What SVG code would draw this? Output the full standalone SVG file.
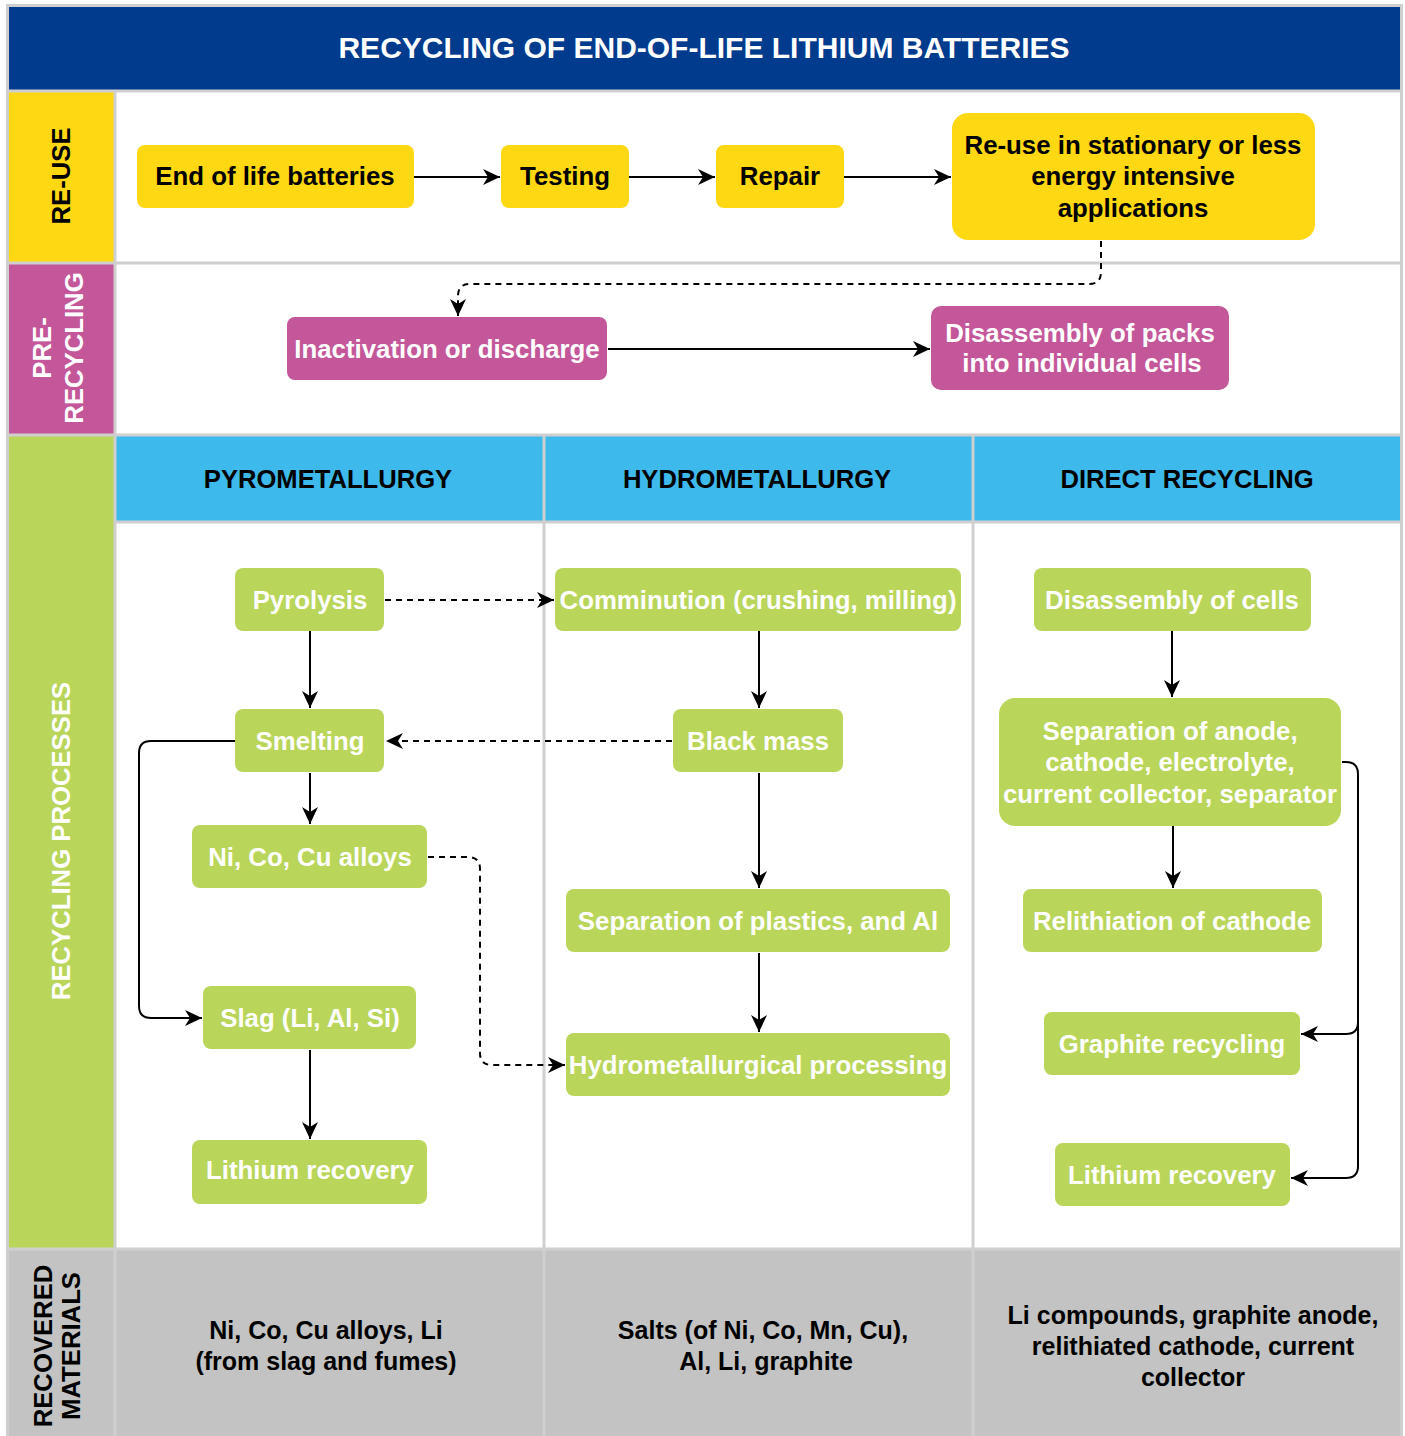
<svg xmlns="http://www.w3.org/2000/svg" width="1405" height="1436" viewBox="0 0 1405 1436">
  <style>
    text { font-family: "Liberation Sans", Arial, sans-serif; font-weight: bold; }
    .title { font-size: 30px; fill: #ffffff; text-anchor: middle; }
    .lbl { font-size: 25.7px; text-anchor: middle; }
    .hdr { font-size: 25.6px; fill: #000000; text-anchor: middle; }
    .yt { font-size: 25.8px; fill: #000000; text-anchor: middle; }
    .mt { font-size: 25.8px; fill: #ffffff; text-anchor: middle; }
    .gt { font-size: 25.8px; fill: #ffffff; text-anchor: middle; }
    .rt { font-size: 25px; fill: #000000; text-anchor: middle; }
    .ybox { fill: #FDD813; }
    .mbox { fill: #C4579A; }
    .gbox { fill: #B9D55A; }
    .grid { stroke: #CFCFCF; stroke-width: 3; fill: none; }
    .solid { stroke: #000000; stroke-width: 2; fill: none; marker-end: url(#arrow); }
    .dash { stroke: #000000; stroke-width: 2; fill: none; stroke-dasharray: 6 5; marker-end: url(#arrow); }
  </style>
  <defs>
    <marker id="arrow" markerUnits="userSpaceOnUse" markerWidth="20" markerHeight="20" refX="17" refY="8" orient="auto">
      <path d="M0,0 L17,8 L0,16 L5,8 Z" fill="#000000"/>
    </marker>
  </defs>

  <!-- background bands -->
  <rect x="0" y="0" width="1405" height="1436" fill="#ffffff"/>
  <rect x="7" y="5" width="1395" height="86" fill="#003B8E"/>
  <rect x="7" y="91" width="108" height="172" fill="#FDD813"/>
  <rect x="7" y="263" width="108" height="172" fill="#C4579A"/>
  <rect x="7" y="435" width="108" height="814" fill="#B9D55A"/>
  <rect x="7" y="1249" width="1395" height="187" fill="#C2C3C2"/>
  <rect x="115" y="435" width="1287" height="87" fill="#3DB9EB"/>

  <!-- grid lines -->
  <g id="grid">
    <rect class="grid" x="7.5" y="5.5" width="1394" height="1432"/>
    <line class="grid" x1="7" y1="91" x2="1402" y2="91"/>
    <line class="grid" x1="115" y1="91" x2="115" y2="1436"/>
    <line class="grid" x1="7" y1="263" x2="1402" y2="263"/>
    <line class="grid" x1="7" y1="435" x2="1402" y2="435"/>
    <line class="grid" x1="115" y1="522" x2="1402" y2="522"/>
    <line class="grid" x1="7" y1="1249" x2="1402" y2="1249"/>
    <line class="grid" x1="544" y1="435" x2="544" y2="1436"/>
    <line class="grid" x1="973" y1="435" x2="973" y2="1436"/>
  </g>

  <!-- title -->
  <text class="title" x="704" y="58">RECYCLING OF END-OF-LIFE LITHIUM BATTERIES</text>

  <!-- row labels -->
  <g id="label-reuse">
    <text class="lbl" transform="translate(61,176) rotate(-90)" y="9" fill="#000000">RE-USE</text>
  </g>
  <g id="label-prerecycling">
    <text class="lbl" transform="translate(58,348) rotate(-90)" fill="#ffffff"><tspan x="0" y="-7">PRE-</tspan><tspan x="0" y="25">RECYCLING</tspan></text>
  </g>
  <g id="label-processes">
    <text class="lbl" transform="translate(61,841) rotate(-90)" y="9" fill="#ffffff">RECYCLING PROCESSES</text>
  </g>
  <g id="label-recovered">
    <text class="lbl" transform="translate(57,1346) rotate(-90)" fill="#000000"><tspan x="0" y="-5">RECOVERED</tspan><tspan x="0" y="23">MATERIALS</tspan></text>
  </g>

  <!-- column headers -->
  <text class="hdr" x="328" y="488">PYROMETALLURGY</text>
  <text class="hdr" x="757" y="488">HYDROMETALLURGY</text>
  <text class="hdr" x="1187" y="488">DIRECT RECYCLING</text>

  <!-- connectors -->
  <g id="connectors">
    <path class="solid" d="M414,177 H500"/>
    <path class="solid" d="M629,177 H715"/>
    <path class="solid" d="M844,177 H951"/>
    <path class="dash" d="M1101,241 V272 Q1101,284 1089,284 H470 Q458,284 458,296 V316"/>
    <path class="solid" d="M608,349 H930"/>
    <path class="solid" d="M310,631 V708"/>
    <path class="solid" d="M310,773 V824"/>
    <path class="solid" d="M235,741 H151 Q139,741 139,753 V1006 Q139,1018 151,1018 H202"/>
    <path class="solid" d="M310,1050 V1139"/>
    <path class="dash" d="M385,600 H554"/>
    <path class="dash" d="M672,741 H386"/>
    <path class="dash" d="M428,857 H468 Q480,857 480,869 V1053 Q480,1065 492,1065 H565"/>
    <path class="solid" d="M759,631 V708"/>
    <path class="solid" d="M759,773 V888"/>
    <path class="solid" d="M759,953 V1032"/>
    <path class="solid" d="M1172,631 V697"/>
    <path class="solid" d="M1173,826 V888"/>
    <path class="solid" d="M1342,762 H1346 Q1358,762 1358,774 V1022 Q1358,1034 1346,1034 H1301"/>
    <path class="solid" d="M1358,1020 V1166 Q1358,1178 1346,1178 H1291"/>
  </g>

  <!-- re-use row -->
  <g id="n-eol">
    <rect class="ybox" x="137" y="145" width="277" height="63" rx="8"/>
    <text class="yt" x="275" y="185">End of life batteries</text>
  </g>
  <g id="n-testing">
    <rect class="ybox" x="501" y="145" width="128" height="63" rx="8"/>
    <text class="yt" x="565" y="185">Testing</text>
  </g>
  <g id="n-repair">
    <rect class="ybox" x="716" y="145" width="128" height="63" rx="8"/>
    <text class="yt" x="780" y="185">Repair</text>
  </g>
  <g id="n-reuse">
    <rect class="ybox" x="952" y="113" width="363" height="127" rx="16"/>
    <text class="yt" x="1133" y="154">Re-use in stationary or less</text>
    <text class="yt" x="1133" y="185">energy intensive</text>
    <text class="yt" x="1133" y="217">applications</text>
  </g>

  <!-- pre-recycling row -->
  <g id="n-inactivation">
    <rect class="mbox" x="287" y="317" width="320" height="63" rx="8"/>
    <text class="mt" x="447" y="358">Inactivation or discharge</text>
  </g>
  <g id="n-disassembly-packs">
    <rect class="mbox" x="931" y="306" width="298" height="84" rx="10"/>
    <text class="mt" x="1080" y="342">Disassembly of packs</text>
    <text class="mt" x="1082" y="372">into individual cells</text>
  </g>

  <!-- pyrometallurgy -->
  <g id="n-pyrolysis">
    <rect class="gbox" x="235" y="568" width="149" height="63" rx="8"/>
    <text class="gt" x="310" y="609">Pyrolysis</text>
  </g>
  <g id="n-smelting">
    <rect class="gbox" x="235" y="709" width="149" height="63" rx="8"/>
    <text class="gt" x="310" y="750">Smelting</text>
  </g>
  <g id="n-alloys">
    <rect class="gbox" x="192" y="825" width="235" height="63" rx="8"/>
    <text class="gt" x="310" y="866">Ni, Co, Cu alloys</text>
  </g>
  <g id="n-slag">
    <rect class="gbox" x="203" y="986" width="213" height="63" rx="8"/>
    <text class="gt" x="310" y="1027">Slag (Li, Al, Si)</text>
  </g>
  <g id="n-li-pyro">
    <rect class="gbox" x="192" y="1140" width="235" height="64" rx="8"/>
    <text class="gt" x="310" y="1179">Lithium recovery</text>
  </g>

  <!-- hydrometallurgy -->
  <g id="n-comminution">
    <rect class="gbox" x="555" y="568" width="406" height="63" rx="8"/>
    <text class="gt" x="758" y="609">Comminution (crushing, milling)</text>
  </g>
  <g id="n-blackmass">
    <rect class="gbox" x="673" y="709" width="170" height="63" rx="8"/>
    <text class="gt" x="758" y="750">Black mass</text>
  </g>
  <g id="n-sep-plastics">
    <rect class="gbox" x="566" y="889" width="384" height="63" rx="8"/>
    <text class="gt" x="758" y="930">Separation of plastics, and Al</text>
  </g>
  <g id="n-hydro-proc">
    <rect class="gbox" x="566" y="1033" width="384" height="63" rx="8"/>
    <text class="gt" x="758" y="1074">Hydrometallurgical processing</text>
  </g>

  <!-- direct recycling -->
  <g id="n-disassembly-cells">
    <rect class="gbox" x="1034" y="568" width="277" height="63" rx="8"/>
    <text class="gt" x="1172" y="609">Disassembly of cells</text>
  </g>
  <g id="n-separation">
    <rect class="gbox" x="999" y="698" width="342" height="128" rx="16"/>
    <text class="gt" x="1170" y="740">Separation of anode,</text>
    <text class="gt" x="1170" y="771">cathode, electrolyte,</text>
    <text class="gt" x="1170" y="803">current collector, separator</text>
  </g>
  <g id="n-relithiation">
    <rect class="gbox" x="1023" y="889" width="299" height="63" rx="8"/>
    <text class="gt" x="1172" y="930">Relithiation of cathode</text>
  </g>
  <g id="n-graphite">
    <rect class="gbox" x="1044" y="1012" width="256" height="63" rx="8"/>
    <text class="gt" x="1172" y="1053">Graphite recycling</text>
  </g>
  <g id="n-li-direct">
    <rect class="gbox" x="1055" y="1143" width="235" height="63" rx="8"/>
    <text class="gt" x="1172" y="1184">Lithium recovery</text>
  </g>

  <!-- recovered materials -->
  <g id="r-pyro">
    <text class="rt" x="326" y="1339">Ni, Co, Cu alloys, Li</text>
    <text class="rt" x="326" y="1370">(from slag and fumes)</text>
  </g>
  <g id="r-hydro">
    <text class="rt" x="763" y="1339">Salts (of Ni, Co, Mn, Cu),</text>
    <text class="rt" x="766" y="1370">Al, Li, graphite</text>
  </g>
  <g id="r-direct">
    <text class="rt" x="1193" y="1324">Li compounds, graphite anode,</text>
    <text class="rt" x="1193" y="1355">relithiated cathode, current</text>
    <text class="rt" x="1193" y="1386">collector</text>
  </g>
</svg>
